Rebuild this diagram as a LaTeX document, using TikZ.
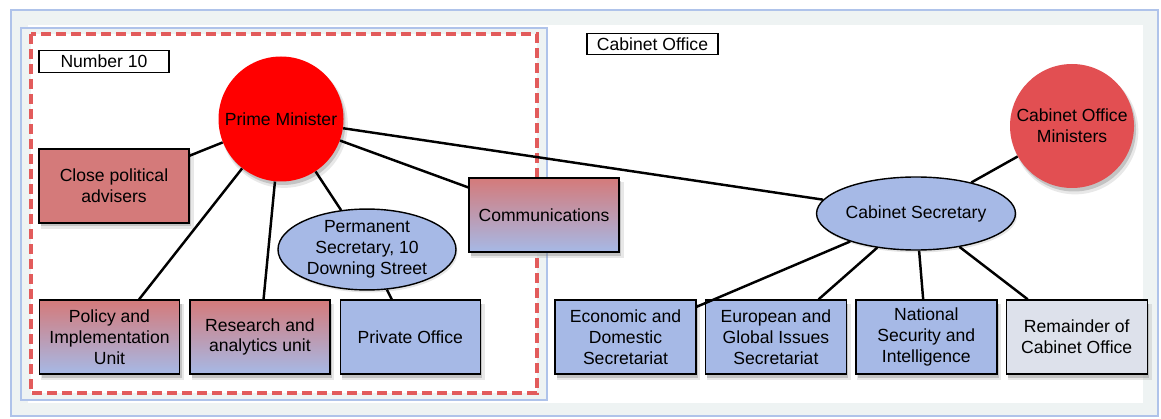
\documentclass[tikz,border=0pt]{standalone}
\usepackage{fontspec}
\setmainfont{Liberation Sans}
\usepackage{xcolor}
\usepackage{tikz}
\usetikzlibrary{shapes,positioning,shadows}

\definecolor{boxred}{HTML}{D47A7A}
\definecolor{boxblue}{HTML}{A6B9E6}
\definecolor{boxgrey}{HTML}{DDE1EB}
\definecolor{coministers}{HTML}{E24F52}
\definecolor{frameblue}{HTML}{AFC3EA}
\definecolor{framefill}{HTML}{EEF3F3}
\definecolor{dashred}{HTML}{E25B5B}

\tikzset{
    shade box/.style={
        drop shadow={shadow xshift=0.06cm, shadow yshift=-0.10cm, opacity=0.18, shadow scale=1.02},
        drop shadow={shadow xshift=0.04cm, shadow yshift=-0.07cm, opacity=0.35}},
    unit/.style={rectangle, draw, line width=0.8pt, minimum width=2.82cm, minimum height=1.48cm,
        align=center, inner sep=2pt, shade box},
    redunit/.style={unit, fill=boxred},
    mixunit/.style={unit, top color=boxred, bottom color=boxblue},
    blueunit/.style={unit, fill=boxblue},
    greyunit/.style={unit, fill=boxgrey},
    person/.style={circle, inner sep=0pt, minimum size=2.5cm, align=center, shade box},
    official/.style={ellipse, draw, fill=boxblue, line width=0.8pt, align=center,
        inner sep=0pt, minimum height=1.46cm,
        drop shadow={shadow xshift=0.03cm, shadow yshift=-0.05cm, opacity=0.2}},
    tag/.style={rectangle, draw, fill=white, line width=0.6pt, minimum height=0.43cm, inner sep=0pt},
    link/.style={line width=1.4pt}
}

\begin{document}
\begin{tikzpicture}[node distance=0.16cm, font=\fontsize{10}{11.8}\selectfont]
    \useasboundingbox (0,0) rectangle (23.22,-8.38);
    % panels
    \draw [frameblue, fill=framefill, line width=1pt] (0.22,-0.20) rectangle (23.16,-8.32);
    \fill [white] (0.55,-0.50) rectangle (22.85,-8.05);
    \draw [frameblue, fill=framefill, line width=1.3pt] (0.42,-0.56) rectangle (10.94,-8.00);
    \draw [dashred, fill=white, line width=2pt, dash pattern=on 0.2cm off 0.1cm] (0.62,-0.68) rectangle (10.74,-7.86);

    \node (num10) [tag, minimum width=2.6cm] at (2.08,-1.23) {Number 10};
    \node (cotag) [tag, minimum width=2.62cm] at (13.05,-0.88) {Cabinet Office};

    % Number 10
    \node (pm) [person, fill=red] at (5.62,-2.38) {Prime Minister};
    \node (advisers) [redunit, minimum width=3cm] at (2.28,-3.72) {Close political\\advisers};
    \node (policy) [mixunit, minimum width=2.8cm] at (2.19,-6.74) {Policy and\\Implementation\\Unit};
    \node (research) [mixunit, minimum width=2.8cm, right=0.18cm of policy] {Research and\\analytics unit};
    \node (private) [blueunit, minimum width=2.8cm, right=0.18cm of research] {Private Office};
    \node (permsec) [official, minimum width=3.56cm] at (7.34,-4.99) {Permanent\\Secretary, 10\\Downing Street};
    \node (comms) [mixunit, minimum width=3cm] at (10.88,-4.30) {Communications};

    % Cabinet Office
    \node (ministers) [person, fill=coministers, minimum size=2.48cm] at (21.44,-2.52) {Cabinet Office\\Ministers};
    \node (cabsec) [official, minimum width=3.96cm] at (18.32,-4.27) {Cabinet Secretary};
    \node (economic) [blueunit] at (12.51,-6.74) {Economic and\\Domestic\\Secretariat};
    \node (european) [blueunit, right=of economic] {European and\\Global Issues\\Secretariat};
    \node (security) [blueunit, right=of european] {National\\Security and\\Intelligence};
    \node (remainder) [greyunit, right=of security] {Remainder of\\Cabinet Office};

    \draw [link] (pm) -- (advisers);
    \draw [link] (pm) -- (policy);
    \draw [link] (pm) -- (research);
    \draw [link] (pm) -- (permsec);
    \draw [link] (pm) -- (comms);
    \draw [link] (pm) -- (cabsec);
    \draw [link] (permsec) -- (private);
    \draw [link] (cabsec) -- (ministers);
    \draw [link] (cabsec) -- (economic);
    \draw [link] (cabsec) -- (european);
    \draw [link] (cabsec) -- (security);
    \draw [link] (cabsec) -- (remainder);
\end{tikzpicture}
\end{document}
